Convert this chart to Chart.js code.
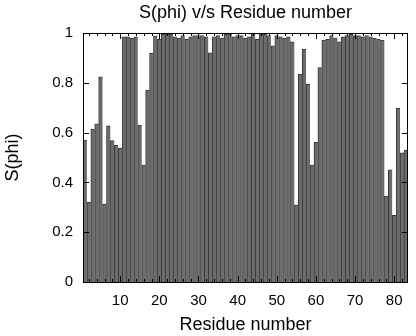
<!DOCTYPE html>
<html>
<head>
<meta charset="utf-8">
<script src="https://cdn.jsdelivr.net/npm/chart.js@4/dist/chart.umd.min.js"></script>
<style>
	html, body { margin: 0; padding: 0; background: #fff; }
	#wrap { width: 416px; height: 336px; }
</style>
</head>
<body>
<div id="wrap"><canvas id="chart" width="416" height="336"></canvas></div>
<script>
const residues = [
	1, 2, 3, 4, 5, 6, 7, 8, 9, 10, 11, 12, 13, 14, 15, 16, 17, 18, 19, 20,
	21, 22, 23, 24, 25, 26, 27, 28, 29, 30, 31, 32, 33, 34, 35, 36, 37, 38, 39, 40,
	41, 42, 43, 44, 45, 46, 47, 48, 49, 50, 51, 52, 53, 54, 55, 56, 57, 58, 59, 60,
	61, 62, 63, 64, 65, 66, 67, 68, 69, 70, 71, 72, 73, 74, 75, 76, 77, 78, 79, 80,
	81, 82, 83
]
const sPhi = [
	0.57, 0.32, 0.614, 0.635, 0.824, 0.313, 0.627, 0.568, 0.55, 0.538,
	0.985, 0.985, 0.979, 0.985, 0.63, 0.47, 0.771, 0.918, 0.988, 0.975,
	0.996, 0.996, 0.996, 0.985, 0.98, 0.99, 0.975, 0.985, 0.99, 0.99,
	0.99, 0.985, 0.92, 0.985, 0.99, 0.98, 0.995, 1.0, 0.985, 0.99,
	0.99, 0.98, 0.985, 0.995, 0.975, 1.0, 0.995, 0.99, 0.948, 0.99,
	0.985, 0.98, 0.985, 0.965, 0.309, 0.835, 0.934, 0.795, 0.47, 0.561,
	0.861, 0.972, 0.975, 0.99, 0.98, 0.965, 0.985, 0.99, 0.995, 0.99,
	0.99, 0.985, 0.99, 0.985, 0.98, 0.975, 0.972, 0.345, 0.45, 0.268,
	0.697, 0.519, 0.53
]
const xMajorTicks = [10, 20, 30, 40, 50, 60, 70, 80]
const yTicks = [0, 0.2, 0.4, 0.6, 0.8, 1]

const fontFamily = '"Liberation Sans", Arial, Helvetica, sans-serif'

// gnuplot style frame with inward ticks on all four sides
const framePlugin = {
	id: 'frame',
	afterDatasetsDraw(chart) {
		const { ctx, chartArea: a, scales } = chart
		ctx.save()
		ctx.strokeStyle = '#000'
		ctx.lineWidth = 1
		ctx.beginPath()
		for (let v = 2; v <= 82; v += 2) {
			const x = Math.round(scales.x.getPixelForValue(v - 1)) + 0.5
			const len = xMajorTicks.includes(v) ? 6 : 3
			ctx.moveTo(x, a.bottom); ctx.lineTo(x, a.bottom - len)
			ctx.moveTo(x, a.top); ctx.lineTo(x, a.top + len)
		}
		yTicks.forEach(v => {
			const y = Math.round(scales.y.getPixelForValue(v)) + 0.5
			ctx.moveTo(a.left, y); ctx.lineTo(a.left + 6, y)
			ctx.moveTo(a.right, y); ctx.lineTo(a.right - 6, y)
		})
		ctx.stroke()
		ctx.strokeRect(Math.round(a.left) + 0.5, Math.round(a.top) + 0.5,
			Math.round(a.right - a.left) - 1, Math.round(a.bottom - a.top))
		ctx.restore()
	}
}

new Chart(document.getElementById('chart'), {
	type: 'bar',
	data: {
		labels: residues,
		datasets: [{
			label: 'S(phi)',
			data: sPhi,
			backgroundColor: '#6c6c6c',
			borderColor: '#383838',
			borderWidth: { left: 1, right: 0, top: 1, bottom: 0 },
			borderSkipped: false,
			barPercentage: 1,
			categoryPercentage: 1
		}]
	},
	options: {
		responsive: false,
		animation: false,
		layout: { padding: { left: 0, right: 1, top: 0, bottom: 0 } },
		plugins: {
			legend: { display: false },
			tooltip: { enabled: false },
			title: {
				display: true,
				fullSize: false,
				text: 'S(phi) v/s Residue number',
				color: '#000',
				font: { family: fontFamily, size: 18, weight: 'normal' },
				padding: { top: 2, bottom: 9.4 }
			}
		},
		scales: {
			x: {
				grid: { display: false, drawTicks: false },
				border: { display: false },
				ticks: {
					autoSkip: false,
					maxRotation: 0,
					color: '#000',
					padding: 10,
					font: { family: fontFamily, size: 15 },
					callback: (val, i) => xMajorTicks.includes(residues[i]) ? String(residues[i]) : ''
				},
				title: {
					display: true,
					text: 'Residue number',
					color: '#000',
					font: { family: fontFamily, size: 18 },
					padding: { top: 0, bottom: 0 }
				},
				afterFit: (scale) => { scale.height = 54 }
			},
			y: {
				min: 0,
				max: 1,
				grid: { display: false, drawTicks: false },
				border: { display: false },
				ticks: {
					stepSize: 0.2,
					color: '#000',
					padding: 10,
					font: { family: fontFamily, size: 15 },
					callback: (v) => String(+v.toFixed(1))
				},
				title: {
					display: true,
					text: 'S(phi)',
					color: '#000',
					font: { family: fontFamily, size: 18 },
					padding: { top: 2, bottom: 0 }
				},
				afterFit: (scale) => { scale.width = 83 }
			}
		}
	},
	plugins: [framePlugin]
})
</script>
</body>
</html>
